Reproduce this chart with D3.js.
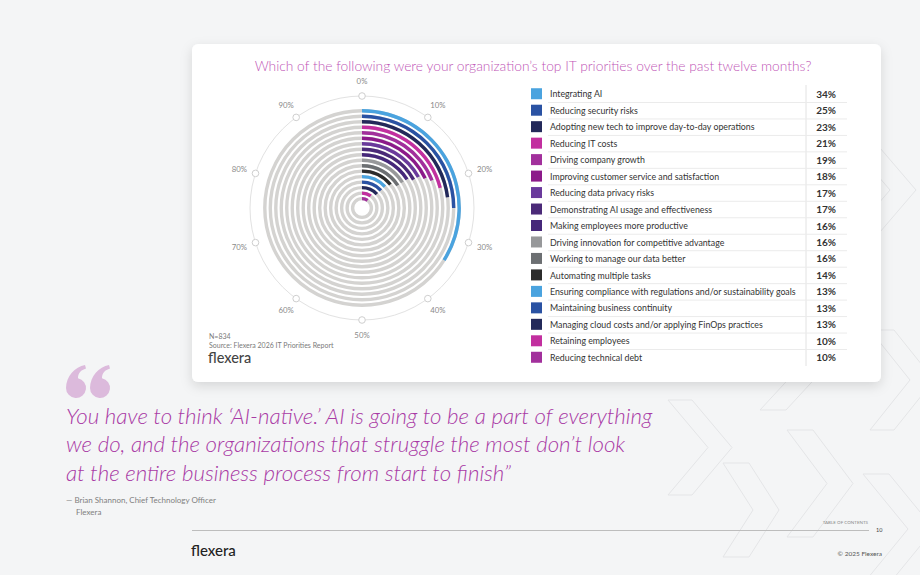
<!DOCTYPE html>
<html>
<head>
<meta charset="utf-8">
<script src="https://cdn.jsdelivr.net/npm/d3@7"></script>
<style>
  html, body { margin: 0; padding: 0; background: #f4f5f6; }
  svg { display: block; font-family: Lato, "Noto Sans", sans-serif; }
</style>
</head>
<body>
<svg id="chart" width="920" height="575"></svg>
<script>
// survey answers, top to bottom (outer ring first)
const priorities = [
  'Integrating AI',
  'Reducing security risks',
  'Adopting new tech to improve day-to-day operations',
  'Reducing IT costs',
  'Driving company growth',
  'Improving customer service and satisfaction',
  'Reducing data privacy risks',
  'Demonstrating AI usage and effectiveness',
  'Making employees more productive',
  'Driving innovation for competitive advantage',
  'Working to manage our data better',
  'Automating multiple tasks',
  'Ensuring compliance with regulations and/or sustainability goals',
  'Maintaining business continuity',
  'Managing cloud costs and/or applying FinOps practices',
  'Retaining employees',
  'Reducing technical debt'
];
const shares = [34, 25, 23, 21, 19, 18, 17, 17, 16, 16, 16, 14, 13, 13, 13, 10, 10];
const swatches = ['#4aa3df', '#2a52a3', '#23295a', '#c22f9f', '#a2309c', '#8c1a8a', '#6a3a9c',
  '#4b2a78', '#46287a', '#97989a', '#6c6f72', '#2c2c2c', '#4aa3df', '#2a52a3', '#23295a',
  '#c22f9f', '#a2309c'];
const tickValues = [0, 10, 20, 30, 40, 50, 60, 70, 80, 90];

const quoteLines = [
  'You have to think \u2018AI-native.\u2019 AI is going to be a part of everything',
  'we do, and the organizations that struggle the most don\u2019t look',
  'at the entire business process from start to finish\u201d'
];

const svg = d3.select('#chart');

// background chevrons (decoration)
const chevron = (x, y, w, h, t) => {
  return `M${x},${y} L${x + t},${y} L${x + t + w},${y + h / 2} L${x + t},${y + h} L${x},${y + h} L${x + w},${y + h / 2} Z`;
};
const chevrons = [
  [600, 90, 55, 110, 24], [700, 200, 60, 120, 26], [760, 280, 60, 130, 26],
  [787, 430, 40, 107, 26], [723, 463, 30, 94, 26], [863, 474, 45, 110, 26],
  [668, 400, 40, 95, 24], [870, 330, 40, 100, 24], [830, 120, 60, 140, 26]
];
svg.append('g')
  .selectAll('path')
  .data(chevrons)
  .enter().append('path')
  .attr('d', c => chevron(...c))
  .attr('fill', 'none')
  .attr('stroke', '#e4e5e7')
  .attr('stroke-width', 1)
  .attr('stroke-linejoin', 'round');

// card with soft shadow
const defs = svg.append('defs');
const shadow = defs.append('filter').attr('id', 'shadow')
  .attr('x', '-10%').attr('y', '-10%').attr('width', '120%').attr('height', '130%');
shadow.append('feDropShadow')
  .attr('dx', 0).attr('dy', 4).attr('stdDeviation', 6)
  .attr('flood-color', '#000').attr('flood-opacity', 0.13);

svg.append('rect')
  .attr('x', 192).attr('y', 44)
  .attr('width', 689).attr('height', 338)
  .attr('rx', 6)
  .attr('fill', '#fff')
  .attr('filter', 'url(#shadow)');

svg.append('text')
  .attr('x', 533).attr('y', 71)
  .attr('text-anchor', 'middle')
  .attr('font-size', 13.8)
  .attr('font-weight', 300)
  .attr('fill', '#c055b6')
  .text('Which of the following were your organization\u2019s top IT priorities over the past twelve months?');

// radial bars
const cx = 362, cy = 208;
const angle = d3.scaleLinear().domain([0, 100]).range([0, 2 * Math.PI]);
const radius = d3.scalePoint()
  .domain(priorities)
  .range([97.2, 9.4]);

const radial = svg.append('g').attr('transform', `translate(${cx},${cy})`);

radial.append('circle')
  .attr('r', 112)
  .attr('fill', 'none')
  .attr('stroke', '#e2e2e2')
  .attr('stroke-width', 1);

radial.selectAll('.track')
  .data(priorities)
  .enter().append('circle')
  .attr('class', 'track')
  .attr('r', p => radius(p))
  .attr('fill', 'none')
  .attr('stroke', '#d4d3d1')
  .attr('stroke-width', 3.4);

const arc = d3.arc()
  .innerRadius(d => radius(d.name) - 1.7)
  .outerRadius(d => radius(d.name) + 1.7)
  .startAngle(0)
  .endAngle(d => angle(d.value));

radial.selectAll('.bar')
  .data(priorities.map((name, i) => ({name: name, value: shares[i], color: swatches[i]})))
  .enter().append('path')
  .attr('class', 'bar')
  .attr('d', arc)
  .attr('fill', d => d.color);

const ticks = radial.selectAll('.tick')
  .data(tickValues)
  .enter().append('g')
  .attr('class', 'tick');

ticks.append('circle')
  .attr('cx', v => 112 * Math.sin(angle(v)))
  .attr('cy', v => -112 * Math.cos(angle(v)))
  .attr('r', 3.3)
  .attr('fill', '#fff')
  .attr('stroke', '#cfcfcf')
  .attr('stroke-width', 1);

ticks.append('text')
  .attr('x', v => 129 * Math.sin(angle(v)))
  .attr('y', v => -127 * Math.cos(angle(v)))
  .attr('dy', '0.35em')
  .attr('text-anchor', 'middle')
  .attr('font-size', 7.8)
  .attr('fill', '#8a8a8a')
  .text(v => v + '%');

// source notes
svg.append('text')
  .attr('x', 209).attr('y', 339)
  .attr('font-size', 7).attr('fill', '#7a7a7a')
  .text('N=834');
svg.append('text')
  .attr('x', 209).attr('y', 347.5)
  .attr('font-size', 7).attr('fill', '#7a7a7a')
  .text('Source: Flexera 2026 IT Priorities Report');
svg.append('text')
  .attr('x', 208).attr('y', 363)
  .attr('font-size', 14.5).attr('font-weight', 500).attr('fill', '#444')
  .text('flexera');

// legend table
const rowScale = d3.scaleBand()
  .domain(priorities)
  .range([86, 366]);

const legend = svg.append('g');

legend.append('line')
  .attr('x1', 806).attr('x2', 806)
  .attr('y1', 85).attr('y2', 366)
  .attr('stroke', '#e2e2e2');

legend.selectAll('.sep')
  .data(priorities.slice(0, -1))
  .enter().append('line')
  .attr('class', 'sep')
  .attr('x1', 548).attr('x2', 847)
  .attr('y1', p => rowScale(p) + rowScale.bandwidth())
  .attr('y2', p => rowScale(p) + rowScale.bandwidth())
  .attr('stroke', '#ebebeb');

const rows = legend.selectAll('.row')
  .data(priorities)
  .enter().append('g')
  .attr('class', 'row')
  .attr('transform', p => `translate(0,${rowScale(p) + rowScale.bandwidth() / 2})`);

rows.append('rect')
  .attr('x', 531).attr('y', -6)
  .attr('width', 11).attr('height', 11)
  .attr('fill', (p, i) => swatches[i]);

rows.append('text')
  .attr('x', 550).attr('dy', '0.35em')
  .attr('font-size', 8.8)
  .attr('fill', '#333')
  .text(p => p);

rows.append('text')
  .attr('x', 836).attr('dy', '0.35em')
  .attr('text-anchor', 'end')
  .attr('font-size', 10)
  .attr('font-weight', 700)
  .attr('fill', '#333')
  .text((p, i) => shares[i] + '%');

// quote mark drawn as two tear shapes
const tear = 'M19,0 C9,2 0,11 0,23 A10 10 0 1 0 12,13.2 C12,8 15,5 20,3.5 Z';
svg.append('g')
  .selectAll('path')
  .data([66, 90])
  .enter().append('path')
  .attr('transform', x => `translate(${x},365)`)
  .attr('d', tear)
  .attr('fill', '#dcbadc');

svg.append('g')
  .selectAll('text')
  .data(quoteLines)
  .enter().append('text')
  .attr('x', 66)
  .attr('y', (l, i) => 423.5 + i * 28.5)
  .attr('font-size', 22.3)
  .attr('font-style', 'italic')
  .attr('font-weight', 300)
  .attr('fill', '#a93aa5')
  .text(l => l);

svg.append('text')
  .attr('x', 66).attr('y', 503)
  .attr('font-size', 8).attr('fill', '#808080')
  .text('\u2014 Brian Shannon, Chief Technology Officer');
svg.append('text')
  .attr('x', 76).attr('y', 515)
  .attr('font-size', 8).attr('fill', '#808080')
  .text('Flexera');

// footer
svg.append('line')
  .attr('x1', 192).attr('x2', 869)
  .attr('y1', 530.5).attr('y2', 530.5)
  .attr('stroke', '#bdbdbd');
svg.append('text')
  .attr('x', 868).attr('y', 524)
  .attr('text-anchor', 'end')
  .attr('font-size', 4.5).attr('fill', '#888')
  .text('TABLE OF CONTENTS');
svg.append('text')
  .attr('x', 876).attr('y', 532)
  .attr('font-size', 5.5).attr('fill', '#444')
  .text('10');
svg.append('text')
  .attr('x', 882).attr('y', 556)
  .attr('text-anchor', 'end')
  .attr('font-size', 6.5).attr('fill', '#555')
  .text('\u00a9 2025 Flexera');
svg.append('text')
  .attr('x', 191).attr('y', 556)
  .attr('font-size', 15).attr('font-weight', 500).attr('fill', '#222')
  .text('flexera');
</script>
</body>
</html>
